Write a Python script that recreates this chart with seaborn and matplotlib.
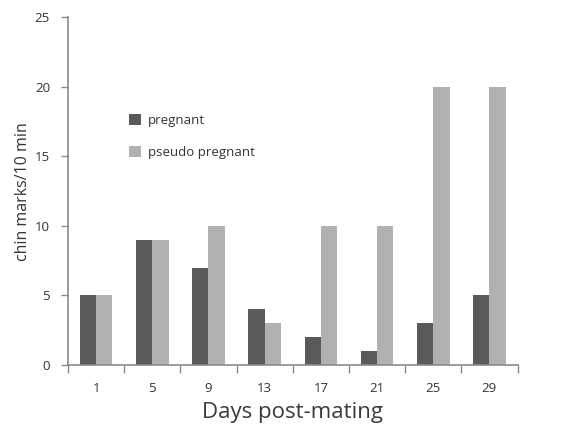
import pandas as pd
import matplotlib.pyplot as plt
import seaborn as sns
from matplotlib.ticker import FixedLocator

# values
days = ["1", "5", "9", "13", "17", "21", "25", "29"]
pregnant = [5, 9, 7, 4, 2, 1, 3, 5]
pseudo_pregnant = [5, 9, 10, 3, 10, 10, 20, 20]
groups = ["pregnant", "pseudo pregnant"]

df = pd.DataFrame({
    "day": days * 2,
    "marks": pregnant + pseudo_pregnant,
    "group": [groups[0]] * len(days) + [groups[1]] * len(days),
})

sns.set_style("white")
plt.rcParams["font.family"] = ["Open Sans", "DejaVu Sans"]

fig = plt.figure(figsize=(5.64, 4.30), dpi=100)
ax = fig.add_axes([0.1206, 0.151, 0.797, 0.809])

sns.barplot(data=df, x="day", y="marks", hue="group", order=days,
            hue_order=groups, palette=["#5a5a5a", "#b1b1b1"],
            width=0.58, saturation=1, linewidth=0, ax=ax)

ax.set_xlim(-0.5, 7.5)
ax.set_ylim(0, 25)
ax.set_yticks([0, 5, 10, 15, 20, 25])

# tick marks sit between the day groups, labels at the centres
ax.xaxis.set_minor_locator(FixedLocator([i - 0.5 for i in range(len(days) + 1)]))
ax.tick_params(axis="x", which="major", length=0, pad=12, labelsize=9.5, colors="#333333")
ax.tick_params(axis="x", which="minor", length=6, width=1, color="#8a8a8a", bottom=True)
ax.tick_params(axis="y", length=5, width=1, color="#8a8a8a", left=True,
               labelsize=9.5, colors="#333333", pad=8)

for side in ["top", "right"]:
    ax.spines[side].set_visible(False)
for side in ["left", "bottom"]:
    ax.spines[side].set_color("#8a8a8a")
    ax.spines[side].set_linewidth(1.2)

ax.set_xlabel("Days post-mating", fontsize=16, color="#3a3a3a",
              labelpad=5, fontweight="medium")
ax.set_ylabel("chin marks/10 min", fontsize=11.5, color="#333333", labelpad=3)

ax.legend(loc="upper left", bbox_to_anchor=(0.11, 0.755), frameon=False,
          fontsize=9.5, handlelength=0.9, handleheight=0.9, labelspacing=1.4,
          handletextpad=0.5, labelcolor="#333333")

fig.savefig("out.png", dpi=100)
